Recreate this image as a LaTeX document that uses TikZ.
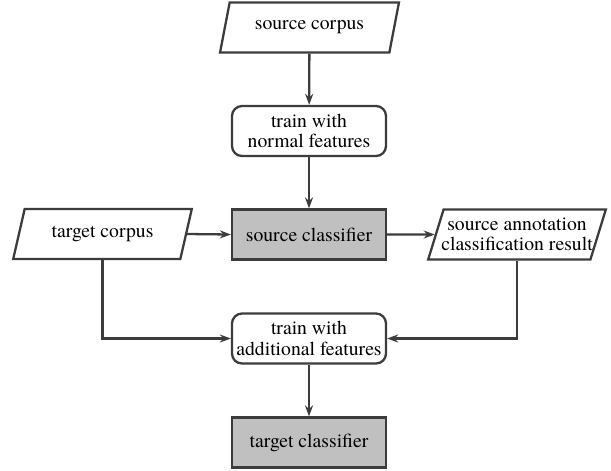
\documentclass[tikz,border=0pt]{standalone}
\usepackage{fontspec}
\IfFontExistsTF{TeX Gyre Termes}{\setmainfont{TeX Gyre Termes}}{\setmainfont{Liberation Serif}}
\usepackage{xcolor}
\usetikzlibrary{arrows.meta, positioning, shapes.geometric}
\definecolor{linegray}{HTML}{3C3C3C}
\definecolor{clsfill}{HTML}{C0C0C0}

\begin{document}
\begin{tikzpicture}[
    every node/.style={font=\fontsize{11.2}{11.6}\selectfont},
    io/.style={trapezium, trapezium left angle=68, trapezium right angle=112, trapezium stretches=true, draw=linegray, line width=1.3pt, fill=white, minimum width=3.58cm, minimum height=1cm, inner sep=1pt, align=center},
    trainbox/.style={draw=linegray, line width=1.3pt, fill=white, rounded corners=0.2cm, minimum width=3.08cm, minimum height=1cm, inner sep=1pt, align=center},
    clsbox/.style={draw=linegray, line width=1.3pt, fill=clsfill, minimum width=3.08cm, minimum height=1cm, inner sep=1pt, align=center},
    arr/.style={-{Stealth[length=0.22cm, width=0.16cm]}, line width=1.3pt, linegray}
]
\useasboundingbox (0,0) rectangle (12.22,-9.4);

\node[io] (srccorpus) at (6.19,-0.55) {source corpus};

\node[trainbox] (trainnorm) at (6.18,-2.62) {%
    train with\\
    normal features
};

\node[clsbox] (srccls) at (6.18,-4.69) {source classifier};

\node[io] (tgtcorpus) at (2.05,-4.68) {target corpus};

\node[io, inner xsep=-0.1cm] (annot) at (10.34,-4.69) {%
    source annotation\\
    classification result
};

\node[trainbox] (trainadd) at (6.18,-6.77) {%
    train with\\
    additional features
};

\node[clsbox] (tgtcls) at (6.18,-8.85) {target classifier};

% main column
\draw[arr] (srccorpus) -- (trainnorm);
\draw[arr] (trainnorm) -- (srccls);
\draw[arr] (trainadd) -- (tgtcls);

% side inputs
\draw[arr] (tgtcorpus.east) -- (srccls.west);
\draw[arr] (srccls.east) -- (annot.west);
\draw[arr] (tgtcorpus.south) |- (trainadd.west);
\draw[arr] (annot.south) |- (trainadd.east);

\end{tikzpicture}
\end{document}
